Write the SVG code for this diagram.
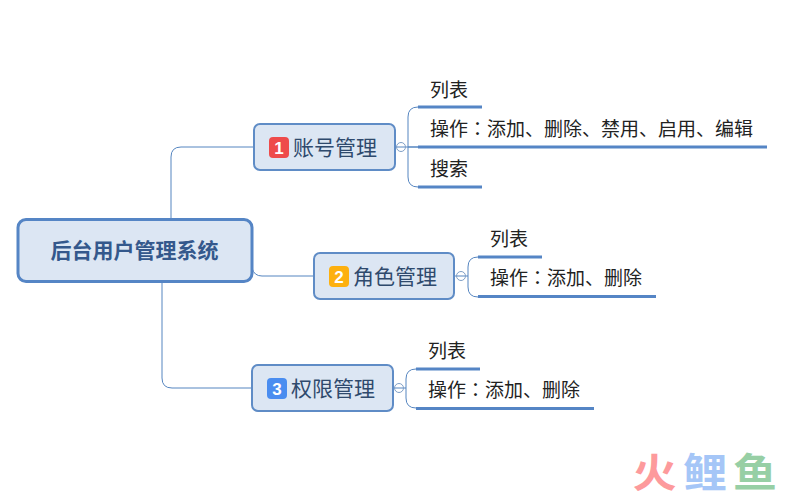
<svg xmlns="http://www.w3.org/2000/svg" width="801" height="499" viewBox="0 0 801 499">
<style>
text{font-family:"Noto Sans CJK SC","Noto Sans",sans-serif}
.root{fill:#dce6f3;stroke:#5585c5;stroke-width:3}
.topic{fill:#dce6f3;stroke:#5f8cc6;stroke-width:2}
.conn{fill:none;stroke:#5585c0;stroke-width:1}
.under{fill:none;stroke:#5585c5;stroke-width:3}
.ct{font-size:21px;fill:#2f4a6d}
.lt{font-size:19px;fill:#222}
.colon{font-family:"Noto Sans CJK TC","Noto Sans",sans-serif}
.badge{font-family:"Liberation Sans",sans-serif;font-size:17px;font-weight:bold;fill:#fff;text-anchor:middle}
.fold{fill:#fff;stroke:#7f9fc6;stroke-width:1}
.wm{font-size:40px;font-weight:700;text-anchor:middle}
</style>
<g id="connectors">
<path class="conn" d="M171 219V157Q171 147 181 147H254"/>
<path class="conn" d="M252 268Q254 276 262 276H314"/>
<path class="conn" d="M162 282V378Q162 388 172 388H252"/>
<path class="conn" d="M395 147H418M418 107Q408 107 408 117V177Q408 187 418 187M408 147H418"/>
<path class="conn" d="M454 276H468M478 257Q468 257 468 267V287Q468 297 478 297"/>
<path class="conn" d="M393 388H406M416 369Q406 369 406 379V398Q406 408 416 408"/>
</g>
<g id="root"><rect class="root" x="18" y="219.500" width="234" height="62" rx="8"/>
<text x="50.500" y="258" font-size="21" font-weight="700" fill="#34588c">后台用户管理系统</text></g>
<g id="node1"><rect class="topic" x="254" y="124" width="141" height="46" rx="6"/>
<rect x="269" y="137" width="20" height="21" rx="4" fill="#ee4b4b"/><text class="badge" x="279" y="153.500">1</text>
<text class="ct" x="293" y="155">账号管理</text>
<circle class="fold" cx="401" cy="147" r="4.500"/><path class="conn" d="M397 147H405"/></g>
<g id="node2"><rect class="topic" x="314" y="253" width="140" height="46" rx="6"/>
<rect x="329" y="266" width="20" height="21" rx="4" fill="#fdb00f"/><text class="badge" x="339" y="282.500">2</text>
<text class="ct" x="353" y="284">角色管理</text>
<circle class="fold" cx="461" cy="276" r="4.500"/><path class="conn" d="M457 276H465"/></g>
<g id="node3"><rect class="topic" x="252" y="365" width="141" height="46" rx="6"/>
<rect x="267" y="378" width="20" height="21" rx="4" fill="#4a8df0"/><text class="badge" x="277" y="394.500">3</text>
<text class="ct" x="291" y="396">权限管理</text>
<circle class="fold" cx="399" cy="388" r="4.500"/><path class="conn" d="M395 388H403"/></g>
<g id="leaf1-1"><text class="lt" x="430" y="97">列表</text><path class="under" d="M418 107H482"/></g>
<g id="leaf1-2"><text class="lt" x="430" y="136">操作<tspan class="colon">：</tspan>添加、删除、禁用、启用、编辑</text><path class="under" d="M418 147H767"/></g>
<g id="leaf1-3"><text class="lt" x="430" y="176">搜索</text><path class="under" d="M418 187H482"/></g>
<g id="leaf2-1"><text class="lt" x="490" y="246">列表</text><path class="under" d="M478 257H542"/></g>
<g id="leaf2-2"><text class="lt" x="490" y="285">操作<tspan class="colon">：</tspan>添加、删除</text><path class="under" d="M478 296.500H656"/></g>
<g id="leaf3-1"><text class="lt" x="428" y="358">列表</text><path class="under" d="M416 369H480"/></g>
<g id="leaf3-2"><text class="lt" x="428" y="397">操作<tspan class="colon">：</tspan>添加、删除</text><path class="under" d="M416 408.500H594"/></g>
<g id="watermark"><text class="wm" transform="translate(654.500 487) scale(1.1 1)" fill="#fd9a9c">火</text><text class="wm" transform="translate(705 487) scale(1.1 1)" fill="#a5c6f7">鲤</text><text class="wm" transform="translate(755 487) scale(1.1 1)" fill="#97cfa5">鱼</text></g>
</svg>
